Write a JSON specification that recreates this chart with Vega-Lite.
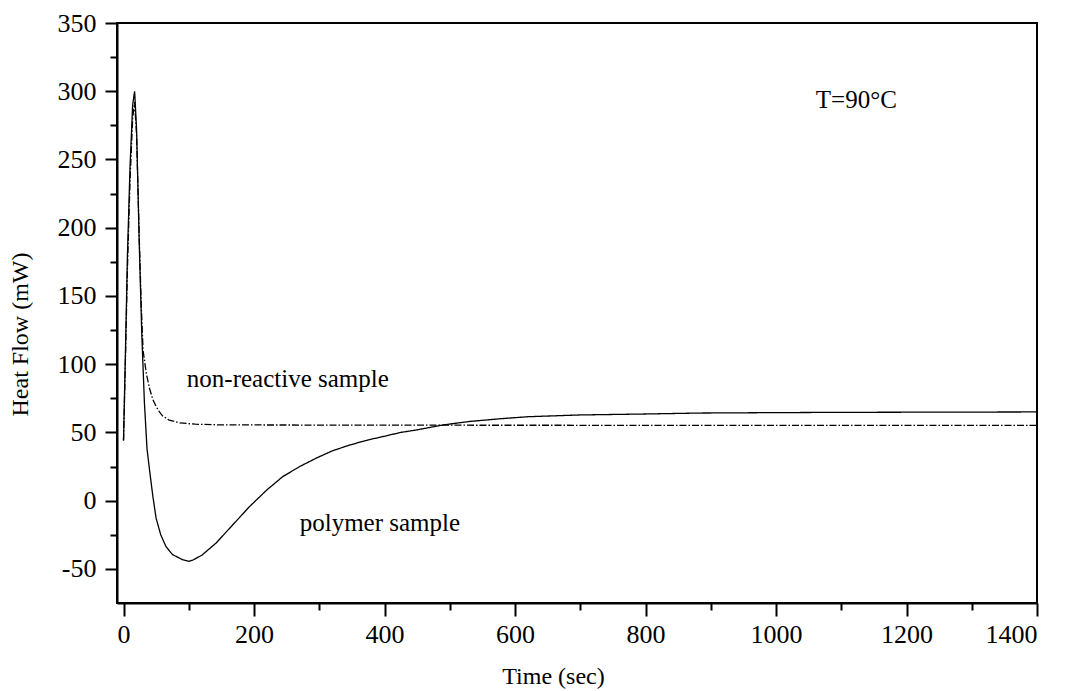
{
  "$schema": "https://vega.github.io/schema/vega-lite/v6.json",
  "width": 920,
  "height": 580,
  "autosize": "none",
  "padding": {"left": 117, "top": 23, "right": 28, "bottom": 88},
  "background": "white",
  "config": {
    "view": {"stroke": "black", "strokeWidth": 2},
    "font": "Liberation Serif",
    "axis": {
      "grid": false,
      "domainColor": "black",
      "domainWidth": 2,
      "tickColor": "black",
      "tickWidth": 2,
      "labelColor": "black",
      "labelFont": "Liberation Serif",
      "labelFontSize": 26,
      "titleFont": "Liberation Serif",
      "titleFontSize": 24,
      "titleFontWeight": "normal",
      "titleColor": "black"
    }
  },
  "datasets": {
    "curves": [
      {"series": "polymer", "t": 0, "v": 44},
      {"series": "polymer", "t": 3, "v": 110},
      {"series": "polymer", "t": 6, "v": 180},
      {"series": "polymer", "t": 10, "v": 245},
      {"series": "polymer", "t": 14, "v": 290},
      {"series": "polymer", "t": 17, "v": 300},
      {"series": "polymer", "t": 20, "v": 272},
      {"series": "polymer", "t": 24, "v": 190},
      {"series": "polymer", "t": 28, "v": 122},
      {"series": "polymer", "t": 32, "v": 72},
      {"series": "polymer", "t": 36, "v": 38},
      {"series": "polymer", "t": 40, "v": 22},
      {"series": "polymer", "t": 45, "v": 3},
      {"series": "polymer", "t": 50, "v": -13},
      {"series": "polymer", "t": 57, "v": -25},
      {"series": "polymer", "t": 65, "v": -33.6},
      {"series": "polymer", "t": 75, "v": -39.5},
      {"series": "polymer", "t": 91, "v": -43.4},
      {"series": "polymer", "t": 100, "v": -44.5},
      {"series": "polymer", "t": 106, "v": -43.6},
      {"series": "polymer", "t": 120, "v": -40},
      {"series": "polymer", "t": 142, "v": -31},
      {"series": "polymer", "t": 165, "v": -19},
      {"series": "polymer", "t": 193, "v": -4.4},
      {"series": "polymer", "t": 220, "v": 8},
      {"series": "polymer", "t": 244, "v": 17.6},
      {"series": "polymer", "t": 270, "v": 25},
      {"series": "polymer", "t": 296, "v": 31.3},
      {"series": "polymer", "t": 320, "v": 36.5},
      {"series": "polymer", "t": 347, "v": 40.8},
      {"series": "polymer", "t": 375, "v": 44.5},
      {"series": "polymer", "t": 398, "v": 47},
      {"series": "polymer", "t": 425, "v": 50},
      {"series": "polymer", "t": 449, "v": 51.8},
      {"series": "polymer", "t": 490, "v": 55.5},
      {"series": "polymer", "t": 530, "v": 58},
      {"series": "polymer", "t": 577, "v": 60},
      {"series": "polymer", "t": 620, "v": 61.5},
      {"series": "polymer", "t": 700, "v": 62.8},
      {"series": "polymer", "t": 800, "v": 63.5},
      {"series": "polymer", "t": 884, "v": 64.2},
      {"series": "polymer", "t": 1000, "v": 64.5},
      {"series": "polymer", "t": 1100, "v": 64.7},
      {"series": "polymer", "t": 1200, "v": 64.8},
      {"series": "polymer", "t": 1300, "v": 64.9},
      {"series": "polymer", "t": 1400, "v": 65},
      {"series": "nonreactive", "t": 0, "v": 44},
      {"series": "nonreactive", "t": 3, "v": 105},
      {"series": "nonreactive", "t": 6, "v": 170},
      {"series": "nonreactive", "t": 10, "v": 235},
      {"series": "nonreactive", "t": 14, "v": 280},
      {"series": "nonreactive", "t": 17, "v": 292},
      {"series": "nonreactive", "t": 20, "v": 268},
      {"series": "nonreactive", "t": 24, "v": 195},
      {"series": "nonreactive", "t": 27, "v": 145},
      {"series": "nonreactive", "t": 30, "v": 110},
      {"series": "nonreactive", "t": 35, "v": 93},
      {"series": "nonreactive", "t": 40, "v": 82},
      {"series": "nonreactive", "t": 45, "v": 74},
      {"series": "nonreactive", "t": 50, "v": 69},
      {"series": "nonreactive", "t": 55, "v": 65},
      {"series": "nonreactive", "t": 60, "v": 62},
      {"series": "nonreactive", "t": 70, "v": 59},
      {"series": "nonreactive", "t": 86, "v": 57},
      {"series": "nonreactive", "t": 110, "v": 56},
      {"series": "nonreactive", "t": 150, "v": 55.5},
      {"series": "nonreactive", "t": 400, "v": 55.3},
      {"series": "nonreactive", "t": 800, "v": 55.2},
      {"series": "nonreactive", "t": 1400, "v": 55.2}
    ],
    "labels": [
      {"label": "T=90°C", "t": 1061, "v": 288},
      {"label": "non-reactive sample", "t": 97, "v": 83},
      {"label": "polymer sample", "t": 270, "v": -22}
    ]
  },
  "resolve": {"axis": {"x": "independent", "y": "independent"}},
  "layer": [
    {
      "data": {"name": "curves"},
      "mark": {"type": "line", "color": "black", "strokeWidth": 1.3},
      "encoding": {
        "x": {
          "field": "t", "type": "quantitative",
          "scale": {"domain": [-10, 1400], "nice": false, "zero": false},
          "axis": {
            "orient": "bottom",
            "title": "Time (sec)",
            "values": [0, 200, 400, 600, 800, 1000, 1200, 1400],
            "labelExpr": "'' + datum.value",
            "labelFontSize": 26,
            "tickSize": 13,
            "labelPadding": 5,
            "titleX": 436,
            "titleAlign": "center",
            "titleY": 61,
            "titleBaseline": "top",
            "titleFontSize": 24
          }
        },
        "y": {
          "field": "v", "type": "quantitative",
          "scale": {"domain": [-75, 350], "nice": false, "zero": false},
          "axis": {
            "orient": "left",
            "title": "Heat Flow (mW)",
            "values": [-50, 0, 50, 100, 150, 200, 250, 300, 350],
            "labelExpr": "'' + datum.value",
            "labelFontSize": 26,
            "tickSize": 12,
            "labelPadding": 9,
            "titleX": -97,
            "titleY": 311,
            "titleAlign": "center",
            "titleBaseline": "middle",
            "titleFontSize": 24
          }
        },
        "detail": {"field": "series"},
        "strokeDash": {
          "field": "series", "type": "nominal",
          "scale": {"domain": ["polymer", "nonreactive"], "range": [[1, 0], [7, 2, 1.5, 2]]},
          "legend": null
        }
      }
    },
    {
      "data": {"name": "labels"},
      "mark": {"type": "text", "align": "left", "baseline": "alphabetic", "font": "Liberation Serif", "fontSize": 25, "color": "black"},
      "encoding": {
        "x": {
          "field": "t", "type": "quantitative",
          "axis": {
            "orient": "bottom",
            "title": null,
            "labels": false,
            "domain": false,
            "tickSize": 7,
            "values": [100, 300, 500, 700, 900, 1100, 1300]
          }
        },
        "y": {
          "field": "v", "type": "quantitative",
          "axis": {
            "orient": "left",
            "title": null,
            "labels": false,
            "domain": false,
            "tickSize": 7,
            "values": [-25, 25, 75, 125, 175, 225, 275, 325]
          }
        },
        "text": {"field": "label"}
      }
    }
  ]
}
